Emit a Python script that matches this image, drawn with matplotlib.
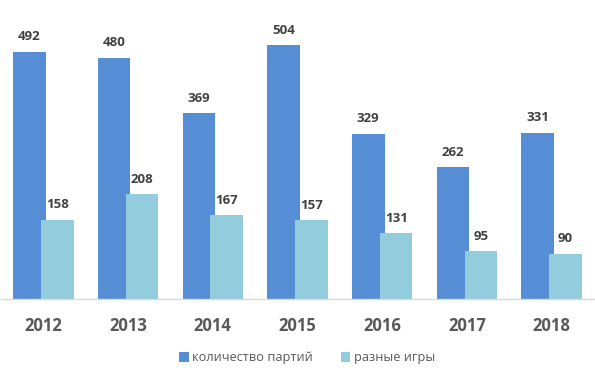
import matplotlib
matplotlib.use("Agg")
import matplotlib.pyplot as plt
import numpy as np

years = ["2012", "2013", "2014", "2015", "2016", "2017", "2018"]
games = [492, 480, 369, 504, 329, 262, 331]
different = [158, 208, 167, 157, 131, 95, 90]
labels = ["количество партий", "разные игры"]
colors = ["#558ED5", "#93CDDD"]

W, H = 595, 374
fig = plt.figure(figsize=(W / 100, H / 100), dpi=100)
ax = fig.add_axes([1 / W, (H - 299) / H, 593 / W, 299 / H])

x = np.arange(len(years))
bw = 0.385
off = 0.165
b1 = ax.bar(x - off, games, bw, color=colors[0], label=labels[0])
b2 = ax.bar(x + off, different, bw, color=colors[1], label=labels[1])

for bars in (b1, b2):
    for r in bars:
        ax.annotate(f"{int(r.get_height())}", (r.get_x() + r.get_width() / 2, r.get_height()),
                    xytext=(0, 6), textcoords="offset points", ha="center", va="bottom",
                    fontsize=9.5, fontweight="bold", color="#404040", family="Open Sans")

ax.set_xlim(-0.5, len(years) - 0.5)
ax.set_ylim(0, 299 / 0.503)
ax.set_xticks(x)
ax.set_xticklabels(years, fontsize=12, fontweight="bold", color="#595959", family="Open Sans")
ax.tick_params(axis="x", length=0, pad=13)
ax.set_yticks([])
for s in ["top", "right", "left"]:
    ax.spines[s].set_visible(False)
ax.spines["bottom"].set_color("#D9D9D9")
ax.spines["bottom"].set_linewidth(1)

leg = fig.legend(handles=[b1, b2], labels=labels, loc="center", bbox_to_anchor=(307 / W, 1 - 358 / H),
                 ncol=2, frameon=False, handlelength=0.75, handleheight=0.75, handletextpad=0.25,
                 columnspacing=2.2, prop={"family": "Open Sans", "size": 9.2})
for t in leg.get_texts():
    t.set_color("#595959")

fig.savefig("out.png", dpi=100)
